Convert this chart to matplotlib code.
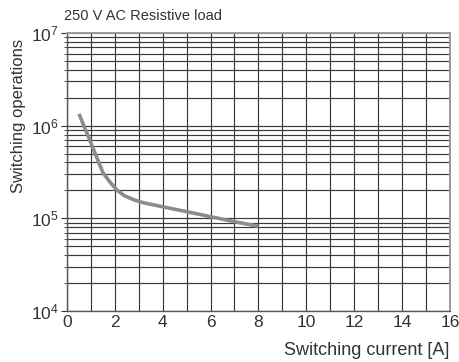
import matplotlib
matplotlib.use("Agg")
import matplotlib.pyplot as plt
from matplotlib.ticker import LogLocator, NullFormatter, FixedLocator

plt.rcParams['font.family'] = ['Liberation Sans', 'DejaVu Sans']
plt.rcParams['font.stretch'] = 'condensed'
plt.rcParams['mathtext.fontset'] = 'custom'
plt.rcParams['mathtext.rm'] = 'Liberation Sans'
plt.rcParams['mathtext.default'] = 'regular'

# curve
current = [0.5, 1.0, 1.5, 1.8, 2.1, 2.4, 2.8, 3.2, 4.0, 5.0, 6.0, 7.0, 8.0]
operations = [1.34e6, 6.5e5, 3.1e5, 2.45e5, 2.0e5, 1.75e5, 1.58e5, 1.47e5,
              1.33e5, 1.18e5, 1.04e5, 9.2e4, 8.2e4]
x_ticks = [0, 2, 4, 6, 8, 10, 12, 14, 16]
y_ticks = [1e4, 1e5, 1e6, 1e7]
y_labels = ['$10^4$', '$10^5$', '$10^6$', '$10^7$']

text_col = '#333333'
grid_col = '#3a3a3a'

fig = plt.figure(figsize=(4.59, 3.62), dpi=100)
ax = fig.add_axes([0.146, 0.141, 0.834, 0.768])

ax.plot(current, operations, color='#8c8c8c', lw=2.6, solid_capstyle='butt', zorder=3)

ax.set_yscale('log')
ax.set_xlim(0, 16)
ax.set_ylim(1e4, 1e7)

ax.set_xticks(x_ticks)
ax.set_xticklabels([str(t) for t in x_ticks])
ax.xaxis.set_minor_locator(FixedLocator(range(0, 17)))
ax.set_yticks(y_ticks)
ax.set_yticklabels(y_labels)
ax.yaxis.set_minor_locator(LogLocator(base=10, subs=range(2, 10)))
ax.yaxis.set_minor_formatter(NullFormatter())

ax.grid(True, which='both', color=grid_col, lw=0.85)
ax.set_axisbelow(True)

ax.tick_params(axis='both', which='major', labelsize=12.5, colors=text_col,
               length=4, width=0.8, pad=2)
ax.tick_params(axis='y', which='minor', length=2, width=0.6, color=text_col)
ax.tick_params(axis='x', which='minor', length=0)
ax.tick_params(axis='x', which='major', length=0, pad=3)

for side in ['left', 'bottom']:
    ax.spines[side].set_color('#555555')
    ax.spines[side].set_linewidth(1.0)
for side in ['top', 'right']:
    ax.spines[side].set_color('#9a9a9a')
    ax.spines[side].set_linewidth(1.4)

fig.text(0.140, 0.955, '250 V AC Resistive load', fontsize=10.5, color=text_col,
         ha='left', va='center')
fig.text(0.040, 0.68, 'Switching operations', fontsize=12, color=text_col,
         rotation=90, ha='center', va='center')
fig.text(0.980, 0.033, 'Switching current [A]', fontsize=13, color=text_col,
         ha='right', va='center')

fig.savefig('out.png', dpi=100)
